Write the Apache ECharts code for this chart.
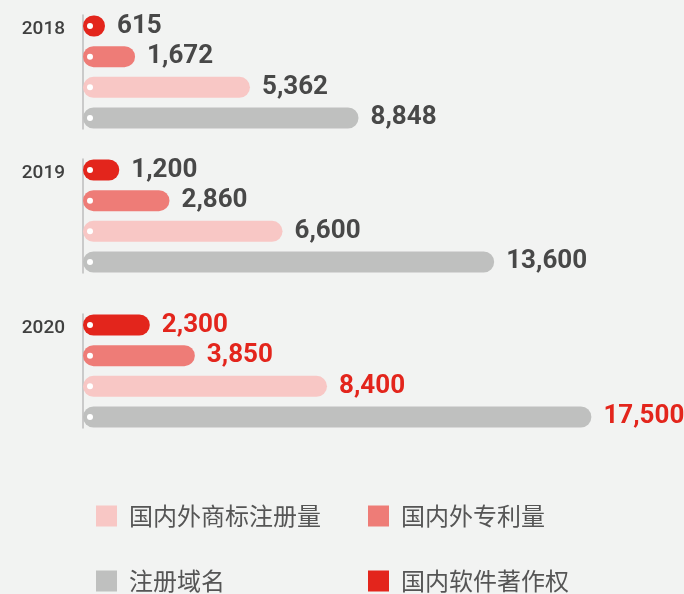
<!DOCTYPE html>
<html>
<head>
<meta charset="utf-8">
<script src="https://cdn.jsdelivr.net/npm/echarts@6/dist/echarts.min.js"></script>
<style>
html,body{margin:0;padding:0;background:#f2f3f2;}
#chartID{width:684px;height:594px;}
</style>
</head>
<body>
<div id="chartID"></div>
<script>
//年份
var yearArray=["2018", "2019", "2020"];
//各项数据（按年份）
var softwareArray=[615, 1200, 2300];      //国内软件著作权
var patentArray=[1672, 2860, 3850];       //国内外专利量
var trademarkArray=[5362, 6600, 8400];    //国内外商标注册量
var domainArray=[8848, 13600, 17500];     //注册域名
//每组横轴最大值
var axisMaxArray=[16700, 17200, 17900];

var seriesNameArray=["国内软件著作权", "国内外专利量", "国内外商标注册量", "注册域名"];
var seriesColorArray=['#e3251c', '#ee7c77', '#f8c7c5', '#bfc0bf'];
var seriesDataArray=[softwareArray, patentArray, trademarkArray, domainArray];

var gridTopArray=[15, 159, 314];

function fmtNum(v){
	return Number(v).toLocaleString('en-US');
}

function showChart(){
	var chart = echarts.init(document.getElementById('chartID'));
	var grids=[], xAxes=[], yAxes=[], series=[];
	for(var g=0; g<yearArray.length; g++){
		grids.push({left:83, top:gridTopArray[g], width:520, height:114});
		xAxes.push({type:'value', gridIndex:g, min:0, max:axisMaxArray[g], show:false});
		yAxes.push({
			type:'category', gridIndex:g, data:[yearArray[g]], offset:5,
			axisLine:{show:true, lineStyle:{color:'#bdbdbd', width:1.5}},
			axisTick:{show:false},
			axisLabel:{
				margin:13,
				formatter:function(v){ return '{y|' + v + '}\n{gap|}'; },
				rich:{
					y:{fontSize:19, color:'#404040', fontWeight:500, height:20, align:'right',
						fontFamily:'Roboto, sans-serif'},
					gap:{height:86}
				}
			}
		});
		var labelColor = (g==yearArray.length-1) ? '#e3251c' : '#484848';
		for(var s=0; s<seriesNameArray.length; s++){
			series.push({
				name:seriesNameArray[s],
				type:'bar',
				xAxisIndex:g, yAxisIndex:g,
				barWidth:21, barGap:'46%',
				barMinHeight:22,
				data:[seriesDataArray[s][g]],
				itemStyle:{color:seriesColorArray[s], borderRadius:11},
				label:{
					show:true, position:'right', distance:12,
					fontSize:26, fontWeight:'bold', color:labelColor,
					fontFamily:'Roboto, sans-serif',
					formatter:function(p){ return fmtNum(p.value); }
				}
			});
			//白点
			series.push({
				type:'pictorialBar',
				xAxisIndex:g, yAxisIndex:g,
				barWidth:21, barGap:'46%',
				symbol:'circle', symbolSize:[6,6],
				symbolPosition:'start', symbolOffset:[4,0],
				z:5,
				data:[seriesDataArray[s][g]],
				itemStyle:{color:'#ffffff'},
				silent:true
			});
		}
	}
	var legendText={fontSize:24, color:'#555555', padding:[0,0,0,7],
		fontFamily:'"Noto Sans CJK SC", sans-serif'};
	function legendItem(name, left, top){
		return {data:[name], left:left, top:top, padding:0,
			itemWidth:21, itemHeight:21, icon:'rect', textStyle:legendText};
	}
	var option = {
		backgroundColor:'#f2f3f2',
		animation:false,
		color:seriesColorArray,
		grid:grids,
		xAxis:xAxes,
		yAxis:yAxes,
		legend:[
			legendItem("国内外商标注册量", 96, 504),
			legendItem("国内外专利量", 368, 504),
			legendItem("注册域名", 96, 569),
			legendItem("国内软件著作权", 368, 569)
		],
		series:series
	};
	chart.setOption(option);
}
showChart();
</script>
</body>
</html>
